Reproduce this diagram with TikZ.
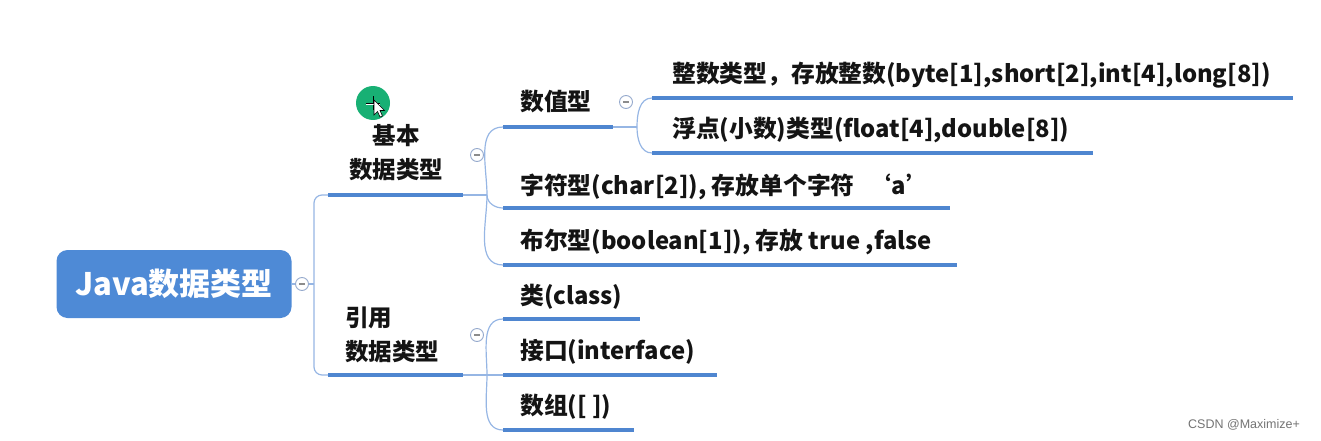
\documentclass[tikz,border=0pt]{standalone}
\usepackage{fontspec}
\newfontfamily\cjk{Noto Sans CJK SC}
\newfontfamily\wmfont{Liberation Sans}
\definecolor{rootc}{RGB}{78,138,214}
\definecolor{thickc}{RGB}{79,134,208}
\definecolor{thinc}{RGB}{150,182,228}
\definecolor{foldc}{RGB}{150,170,205}
\definecolor{greenc}{RGB}{24,176,116}
\begin{document}
\begin{tikzpicture}[x=1pt,y=-1pt,
  topic/.style={anchor=west, inner sep=0pt, font=\cjk\bfseries\fontsize{23.8}{27}\selectfont, text=black!92},
  maintopic/.style={inner sep=0pt, font=\cjk\bfseries\fontsize{23.5}{34}\selectfont, text=black!92},
  under/.style={line width=4pt, draw=thickc},
  conn/.style={line width=1.2pt, draw=thinc},
  fold/.style={circle, draw=foldc, fill=white, line width=0.9pt, minimum size=13pt, inner sep=0pt,
    path picture={\draw[black!45, line width=1.2pt] ([xshift=-3pt]path picture bounding box.center) -- ([xshift=3pt]path picture bounding box.center);}},
  rootbox/.style={rounded corners=11pt, fill=rootc, text=white, minimum width=235pt, minimum height=68pt,
    inner sep=0pt, font=\cjk\bfseries\fontsize{31}{36}\selectfont}
]
\useasboundingbox (0,0) rectangle (1321,441);

% root
\node[rootbox] (root) at (174,284) {Java数据类型};
\node[fold] (f0) at (302,284) {};
\coordinate (s0) at (314,284);
\coordinate (b0) at (328,195);
\coordinate (r0) at (328,375);
\draw[conn] (root.east) -- (f0.west);
\draw[conn] (f0.east) -- (s0);
\draw[conn, rounded corners=8pt] (b0) -| (s0) |- (r0);

% level 1
\node[maintopic, align=center] (basic) at (396,153) {基本\\数据类型};
\node[maintopic, align=left, anchor=west] (ref) at (345,335) {引用\\数据类型};
\coordinate (b1) at (463,195);
\coordinate (r1) at (463,375);
\coordinate (jb) at (487,195);
\coordinate (jr) at (487,375);
\draw[under] (b0) -- (b1);
\draw[under] (r0) -- (r1);
\draw[conn] (b1) -- (jb);
\draw[conn] (r1) -- (jr);
\node[fold] (fb) at (477,155) {};
\node[fold] (fr) at (477,335) {};

% basic children
\coordinate (n0) at (503,127); \coordinate (n1) at (613,127);
\coordinate (c0) at (503,208); \coordinate (c1) at (950,208);
\coordinate (o0) at (503,265); \coordinate (o1) at (957,265);
\draw[conn] (jb) to[out=90,in=180] (n0);
\draw[conn] (jb) to[out=-90,in=180] (c0);
\draw[conn] (jb) to[out=-90,in=180] (o0);
\draw[under] (n0) -- (n1);
\draw[under] (c0) -- (c1);
\draw[under] (o0) -- (o1);
\node[topic] (num) at (520,102) {数值型};
\node[topic] (chr) at (520,187) {字符型(char[2]), 存放单个字符\hspace{0.55em}‘a’};
\node[topic] (bool) at (520,242) {布尔型(boolean[1]), 存放 true ,false};

% numeric children
\node[fold] (fn) at (626,102) {};
\coordinate (jn) at (637,127);
\draw[conn] (n1) -- (jn);
\coordinate (i0) at (652,98);  \coordinate (i1) at (1293,98);
\coordinate (d0) at (652,153); \coordinate (d1) at (1093,153);
\draw[conn] (jn) to[out=90,in=180] (i0);
\draw[conn] (jn) to[out=-90,in=180] (d0);
\draw[under] (i0) -- (i1);
\draw[under] (d0) -- (d1);
\node[topic] (int) at (672,75) {整数类型，存放整数(byte[1],short[2],int[4],long[8])};
\node[topic] (flt) at (672,130) {浮点(小数)类型(float[4],double[8])};

% reference children
\coordinate (k0) at (503,319); \coordinate (k1) at (640,319);
\coordinate (t0) at (503,375); \coordinate (t1) at (717,375);
\coordinate (a0) at (503,430); \coordinate (a1) at (634,430);
\draw[conn] (jr) to[out=90,in=180] (k0);
\draw[conn] (jr) -- (t0);
\draw[conn] (jr) to[out=-90,in=180] (a0);
\draw[under] (k0) -- (k1);
\draw[under] (t0) -- (t1);
\draw[under] (a0) -- (a1);
\node[topic] (cls) at (520,297) {类(class)};
\node[topic] (itf) at (520,352) {接口(interface)};
\node[topic] (arr) at (520,407) {数组([ ])};

% cursor highlight
\node[circle, fill=greenc, minimum size=34pt, inner sep=0pt] (spot) at (373,103) {};
\draw[black, line width=0.8pt] ([xshift=-7pt]spot.center) -- ([xshift=7pt]spot.center)
  ([yshift=-7pt]spot.center) -- ([yshift=7pt]spot.center);
\draw[white, line width=0.5pt] ([xshift=-7pt,yshift=-1pt]spot.center) -- ([xshift=7pt,yshift=-1pt]spot.center);
\draw[fill=white, draw=black, line width=0.6pt, shift={(374,100)}]
  (0,0) -- (0,15) -- (3.5,11.5) -- (6,17) -- (8.5,16) -- (6,10.5) -- (10.5,10.5) -- cycle;

% watermark
\node[inner sep=0pt, font=\wmfont\fontsize{12.5}{14}\selectfont, text=black!55] (wm) at (1244,425) {CSDN @Maximize+};
\end{tikzpicture}
\end{document}
